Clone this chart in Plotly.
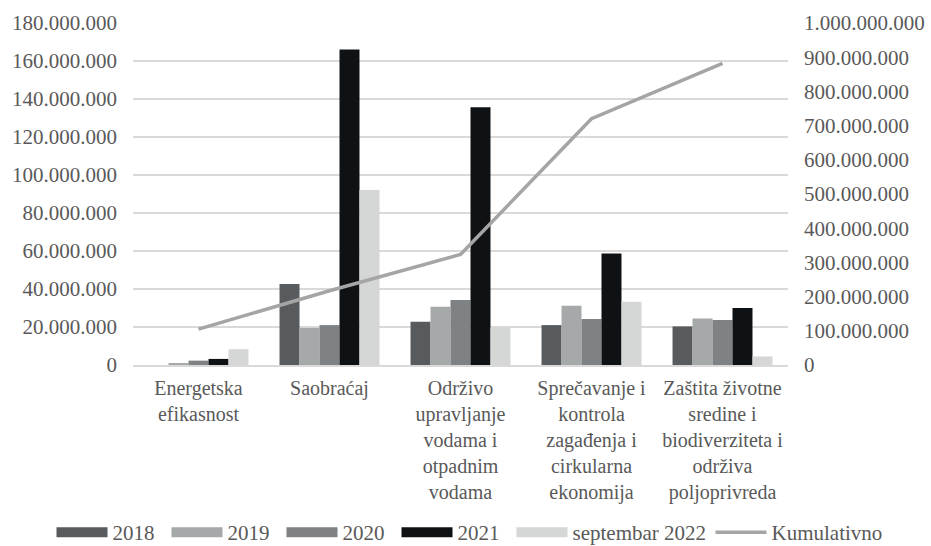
import plotly.graph_objects as go

categories = [
    "Energetska<br>efikasnost",
    "Saobraćaj",
    "Održivo<br>upravljanje<br>vodama i<br>otpadnim<br>vodama",
    "Sprečavanje i<br>kontrola<br>zagađenja i<br>cirkularna<br>ekonomija",
    "Zaštita životne<br>sredine i<br>biodiverziteta i<br>održiva<br>poljoprivreda",
]

v2018 = [0, 42_600_000, 22_800_000, 21_000_000, 20_300_000]
v2019 = [600_000, 19_500_000, 30_700_000, 31_200_000, 24_500_000]
v2020 = [2_300_000, 21_000_000, 34_200_000, 24_200_000, 23_700_000]
v2021 = [3_200_000, 166_000_000, 135_600_000, 58_700_000, 30_000_000]
vsep2022 = [8_300_000, 92_100_000, 19_800_000, 33_300_000, 4_500_000]
kumulativno = [105_000_000, 217_000_000, 323_000_000, 720_000_000, 882_000_000]

# name, values, colour, legend entry text width (px)
series = [
    ("2018", v2018, "#575b5d", 49),
    ("2019", v2019, "#a6a9a9", 49),
    ("2020", v2020, "#7e8284", 49),
    ("2021", v2021, "#0f1215", 49),
    ("septembar 2022", vsep2022, "#d5d6d6", 133),
]

FONT = "Liberation Serif"
TXT = "#595959"
W, H = 931, 546
PLOT_L, PLOT_R = 133, 788

fig = go.Figure()
for name, vals, col, lw in series:
    fig.add_trace(go.Bar(
        x=categories, y=vals, name=name, marker_color=col,
        marker_line_width=0, showlegend=False, legendgroup=name,
    ))
    # wide rectangular swatch for the legend entry
    fig.add_trace(go.Scatter(
        x=[None], y=[None], mode="lines", name=name, legendgroup=name,
        line=dict(color=col, width=11), legendwidth=lw,
    ))

fig.add_trace(go.Scatter(
    x=categories, y=kumulativno, name="Kumulativno", mode="lines",
    line=dict(color="#a5a5a5", width=3.5), yaxis="y2",
))

fig.update_layout(
    width=W, height=H,
    margin=dict(l=0, r=0, t=23, b=181, autoexpand=False),
    paper_bgcolor="white", plot_bgcolor="white",
    separators=",.",
    barmode="group", bargap=0.237, bargroupgap=0,
    font=dict(family=FONT, size=21, color=TXT),
    showlegend=True,
    legend=dict(
        orientation="h", x=0.5043, xanchor="center", y=-0.49, yanchor="middle",
        bgcolor="rgba(0,0,0,0)",
        font=dict(family=FONT, size=21, color=TXT),
        itemwidth=51, tracegroupgap=0, traceorder="normal",
    ),
    xaxis=dict(
        domain=[PLOT_L / W, PLOT_R / W],
        showgrid=False, showline=True, linecolor="#d9d9d9", linewidth=1.5,
        ticks="", automargin=False, ticklabelstandoff=4,
        tickfont=dict(family=FONT, size=20, color=TXT),
    ),
    yaxis=dict(
        range=[0, 180_000_000], dtick=20_000_000, tickformat=",d",
        showgrid=True, gridcolor="#d9d9d9", gridwidth=1.5,
        zeroline=False, showline=False, ticks="", automargin=False,
        ticklabelstandoff=15,
        tickfont=dict(family=FONT, size=21, color=TXT),
    ),
    yaxis2=dict(
        range=[0, 1_000_000_000], dtick=100_000_000, tickformat=",d",
        overlaying="y", side="right", showgrid=False, zeroline=False,
        showline=False, ticks="", automargin=False,
        ticklabelstandoff=15,
        tickfont=dict(family=FONT, size=21, color=TXT),
    ),
    hovermode=False,
)

fig.write_html("out.html")
